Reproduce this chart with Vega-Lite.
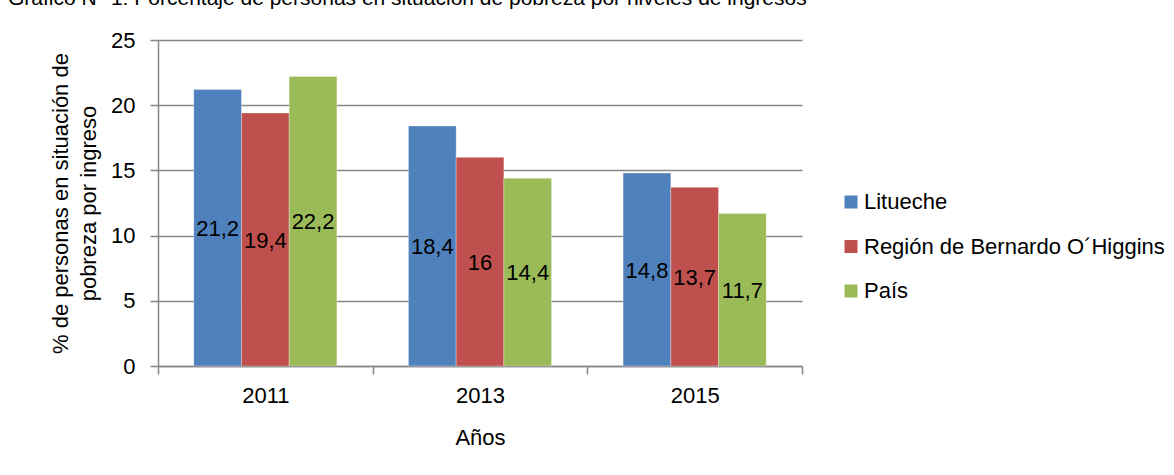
{
  "$schema": "https://vega.github.io/schema/vega-lite/v6.json",
  "width": 644,
  "height": 326,
  "autosize": {"type": "none"},
  "padding": {"left": 158, "top": 40, "right": 372, "bottom": 109},
  "background": "white",
  "title": {
    "text": "Gráfico N° 1: Porcentaje de personas en situación de pobreza por niveles de ingresos",
    "anchor": "start",
    "frame": "group",
    "dx": -150,
    "offset": 3,
    "baseline": "alphabetic",
    "font": "Liberation Sans",
    "fontSize": 21,
    "fontWeight": "normal",
    "color": "black"
  },
  "data": {
    "values": [
      {"anio": "2011", "serie": "Litueche", "valor": 21.2},
      {"anio": "2011", "serie": "Región de Bernardo O´Higgins", "valor": 19.4},
      {"anio": "2011", "serie": "País", "valor": 22.2},
      {"anio": "2013", "serie": "Litueche", "valor": 18.4},
      {"anio": "2013", "serie": "Región de Bernardo O´Higgins", "valor": 16},
      {"anio": "2013", "serie": "País", "valor": 14.4},
      {"anio": "2015", "serie": "Litueche", "valor": 14.8},
      {"anio": "2015", "serie": "Región de Bernardo O´Higgins", "valor": 13.7},
      {"anio": "2015", "serie": "País", "valor": 11.7}
    ]
  },
  "encoding": {
    "x": {
      "field": "anio",
      "type": "nominal",
      "scale": {"paddingInner": 0, "paddingOuter": 0},
      "axis": {
        "title": "Años",
        "labelAngle": 0,
        "tickBand": "extent",
        "labelPadding": 11,
        "titlePadding": 21
      }
    },
    "xOffset": {
      "field": "serie",
      "type": "nominal",
      "sort": ["Litueche", "Región de Bernardo O´Higgins", "País"],
      "scale": {"paddingInner": 0, "paddingOuter": 0.75}
    }
  },
  "layer": [
    {
      "mark": {"type": "bar", "stroke": "white", "strokeWidth": 0.5, "strokeOpacity": 0.6},
      "encoding": {
        "y": {
          "field": "valor",
          "type": "quantitative",
          "scale": {"domain": [0, 25], "nice": false},
          "axis": {
            "values": [0, 5, 10, 15, 20, 25],
            "title": ["% de personas en situación de", "pobreza por ingreso"],
            "titleLineHeight": 28,
            "titlePadding": 10,
            "labelPadding": 15
          }
        },
        "color": {
          "field": "serie",
          "type": "nominal",
          "sort": ["Litueche", "Región de Bernardo O´Higgins", "País"],
          "scale": {
            "domain": ["Litueche", "Región de Bernardo O´Higgins", "País"],
            "range": ["#4F81BD", "#C0504D", "#9BBB59"]
          },
          "legend": {
            "title": null,
            "orient": "none",
            "legendX": 682,
            "legendY": 151,
            "symbolType": "square",
            "symbolSize": 169,
            "symbolStrokeWidth": 0,
            "labelFontSize": 22,
            "labelFont": "Liberation Sans",
            "labelColor": "black",
            "rowPadding": 22.5,
            "labelOffset": 2,
            "labelLimit": 400
          }
        }
      }
    },
    {
      "mark": {
        "type": "text",
        "baseline": "middle",
        "align": "center",
        "fontSize": 22,
        "font": "Liberation Sans",
        "color": "black",
        "yOffset": 1
      },
      "encoding": {
        "y": {
          "field": "valor",
          "type": "quantitative",
          "scale": {"domain": [0, 50], "nice": false},
          "axis": null
        },
        "text": {"field": "valor", "type": "quantitative", "format": "~g"}
      }
    }
  ],
  "resolve": {"scale": {"y": "independent"}},
  "config": {
    "locale": {
      "number": {"decimal": ",", "thousands": ".", "grouping": [3], "currency": ["", ""]}
    },
    "view": {"stroke": null},
    "font": "Liberation Sans",
    "axis": {
      "labelFont": "Liberation Sans",
      "labelFontSize": 22,
      "labelColor": "black",
      "titleFont": "Liberation Sans",
      "titleFontSize": 22,
      "titleFontWeight": "normal",
      "titleColor": "black",
      "domainColor": "#868686",
      "domainWidth": 1.5,
      "tickColor": "#868686",
      "tickWidth": 1.5,
      "tickSize": 8,
      "gridColor": "#868686",
      "gridWidth": 1.5
    },
    "axisX": {"grid": false},
    "axisY": {"grid": true}
  }
}
